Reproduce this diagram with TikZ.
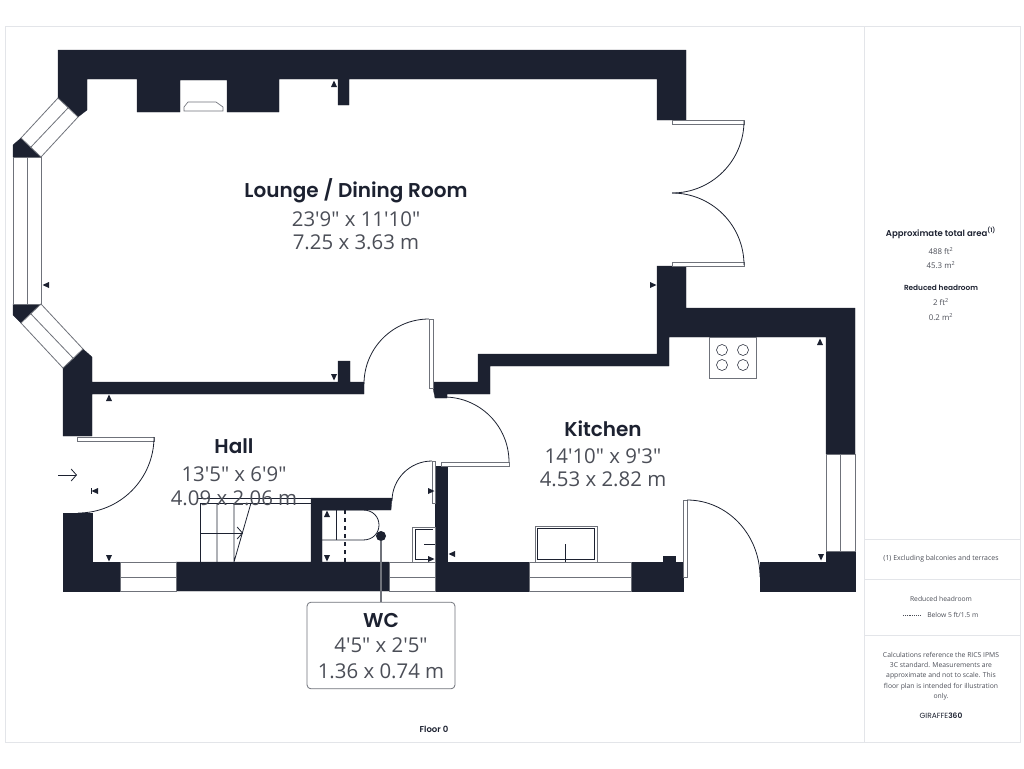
\documentclass[tikz,border=0pt]{standalone}
\usepackage{fontspec}
\setmainfont{Open Sans}[Ligatures=TeXOff]
\newfontfamily\titlefont{Poppins}[BoldFont={Poppins SemiBold}]
\usepackage{xcolor}
\usetikzlibrary{arrows.meta}
\definecolor{wallcol}{HTML}{1C2130}
\definecolor{dimcol}{HTML}{4B4E57}
\definecolor{framecol}{HTML}{E3E5E9}
\definecolor{panecol}{HTML}{6F727A}
\tikzset{
	wall/.style={fill=wallcol,draw=wallcol,line width=0.2pt},
	pane/.style={draw=panecol,fill=white,line width=0.6pt},
	leaf/.style={draw=panecol,fill=white,line width=0.7pt},
	swing/.style={draw=wallcol,line width=0.6pt},
	fitting/.style={draw=wallcol,line width=0.6pt},
	roomname/.style={font=\titlefont\bfseries\fontsize{15}{18}\selectfont,text=wallcol,inner sep=0pt},
	roomdim/.style={font=\fontsize{15.3}{18}\selectfont,text=dimcol,inner sep=0pt},
	sidehead/.style={font=\titlefont\bfseries\fontsize{6.4}{8}\selectfont,text=wallcol,inner sep=0pt},
	sidetext/.style={font=\fontsize{5.9}{7.6}\selectfont,text=dimcol,inner sep=0pt,align=center}
}
\newcommand{\tickmark}[3]{\fill[wallcol,shift={(#1,#2)},rotate=#3] (0,-3.5) -- (3,3) -- (-3,3) -- cycle;}
\begin{document}
\begin{tikzpicture}[x=0.75pt,y=-0.75pt]
	\useasboundingbox (0,0) rectangle (1024,768);
	% sheet
	\draw[framecol,line width=0.7pt] (5,26) rectangle (1020,742);
	\draw[framecol,line width=0.7pt] (864,26) -- (864,742);
	\foreach \ypos in {539,579,635}
		\draw[framecol,line width=0.7pt] (864,\ypos) -- (1020,\ypos);
	% walls
	\path[wall] (58,50) -- (686,50) -- (686,120) -- (657,120) -- (657,79) -- (349,79) -- (349,105) -- (338,105) -- (338,79) -- (279,79) -- (279,112) -- (227,112) -- (227,80) -- (180,80) -- (180,112) -- (137,112) -- (137,79) -- (87,79) -- (87,110) -- (78,117) -- (58,98) -- cycle;
	\path[wall] (83,349) -- (92,357) -- (92,382) -- (338,382) -- (338,361) -- (350,361) -- (350,382) -- (364,382) -- (364,394) -- (92,394) -- (92,436) -- (63,436) -- (63,368) -- cycle;
	\path[wall] (63,513) -- (92,513) -- (92,562) -- (120,562) -- (120,591) -- (63,591) -- cycle;
	\path[wall] (176,562) -- (311,562) -- (311,498) -- (392,498) -- (391,510) -- (322,510) -- (322,562) -- (389,562) -- (389,591) -- (176,591) -- cycle;
	\path[wall] (435,466) -- (447,466) -- (447,562) -- (529,562) -- (529,591) -- (435,591) -- cycle;
	\path[wall] (631,562) -- (663,562) -- (663,556) -- (675,556) -- (675,562) -- (683,562) -- (683,591) -- (631,591) -- cycle;
	\path[wall] (760,562) -- (826,562) -- (826,551) -- (855,551) -- (855,591) -- (760,591) -- cycle;
	\path[wall] (657,266) -- (686,266) -- (686,308) -- (855,308) -- (855,454) -- (826,454) -- (826,337) -- (669,337) -- (669,366) -- (490,366) -- (490,394) -- (447,394) -- (447,398) -- (435,398) -- (433,388) -- (433,382) -- (478,382) -- (478,354) -- (657,354) -- cycle;
	\path[wall] (21,138) -- (41,157) -- (13,157) -- (13,145) -- cycle;
	\path[wall] (13,304) -- (41,304) -- (21,323) -- (13,315) -- cycle;
	% windows
	\draw[pane] (58,98) -- (78,117) -- (41,157) -- (21,138) -- cycle (68,108) -- (31,147);
	\draw[pane] (13,157) rectangle (41,304) (27,157) -- (27,304);
	\draw[pane] (41,304) -- (83,349) -- (63,368) -- (21,323) -- cycle (31,314) -- (73,358);
	\draw[pane] (120,562) rectangle (176,591) (120,577) -- (176,577);
	\draw[pane] (389,562) rectangle (435,591) (389,577) -- (435,577);
	\draw[pane] (529,562) rectangle (631,591) (529,577) -- (631,577);
	\draw[pane] (826,454) rectangle (855,551) (840,454) -- (840,551);
	% doors
	\draw[leaf] (77,437) rectangle (154,441);
	\draw[swing] (154,437) arc[start angle=0,end angle=90,radius=76];
	\draw[leaf] (672,120) rectangle (744,124);
	\draw[swing] (744,121) arc[start angle=0,end angle=90,radius=72];
	\draw[leaf] (672,262) rectangle (744,266);
	\draw[swing] (744,265) arc[start angle=0,end angle=-90,radius=72];
	\draw[leaf] (429,319) rectangle (433,388);
	\draw[swing] (429,319) arc[start angle=-90,end angle=-180,radius=65];
	\draw[leaf] (441,462) rectangle (509,466);
	\draw[swing] (509,462) arc[start angle=0,end angle=-90,radius=65];
	\draw[leaf] (432,461) rectangle (435,503);
	\draw[swing] (432,461) arc[start angle=-90,end angle=-180,radius=40];
	\draw[leaf] (683,500) rectangle (687,577);
	\draw[swing] (687,500) arc[start angle=-90,end angle=0,x radius=73,y radius=77];
	\draw[swing,->,>={Straight Barb[length=4pt,width=9pt]}] (58,475) -- (77,475);
	% stairs
	\draw[fitting] (200,562) -- (200,503) -- (311,503) (197,498) -- (311,498);
	\draw[fitting] (217,503) -- (217,562) (234,503) -- (234,562) -- (251,503);
	\draw[fitting,->,>={Straight Barb[length=4pt,width=9pt]}] (200,533) -- (243,533);
	% chimney, hob, sink
	\draw[draw=panecol,line width=0.5pt] (184,111) -- (184,107) -- (188,102) -- (216,102) -- (223,107) -- (223,111) -- cycle;
	\draw[pane] (709,337) rectangle (756,378);
	\foreach \xpos in {722,743}
		\foreach \ypos in {350,365}
			\draw[fitting,line width=0.4pt] (\xpos,\ypos) circle[radius=5.5];
	\draw[pane] (535,526) rectangle (597,562);
	\draw[fitting] (537,528) rectangle (594,559) (565,544) -- (565,562);
	% wc fittings
	\draw[fitting] (322,540) -- (363,540) .. controls (373,540) and (379,533) .. (379,525) .. controls (379,517) and (373,510) .. (363,510) -- (322,510);
	\draw[fitting] (336,510) -- (336,540);
	\draw[wallcol,line width=1.2pt,dashed] (345,510) -- (345,562);
	\draw[pane] (412,527) rectangle (435,562);
	\draw[fitting] (433,529) -- (415,529) -- (415,559) -- (433,559) (424,544) -- (435,544);
	% dimension marks
	\foreach \xpos/\ypos/\ang in {46/285/90,109/398/0,109/558/180,334/377/180,334/84/0,653/285/-90,95/491/90,327/514/0,327/558/180,431/491/-90,431/559/-90,452/554/90,820/342/0,821/557/180}
		\tickmark{\xpos}{\ypos}{\ang}
	\draw[wallcol,line width=0.5pt] (91,488) -- (91,494);
	% labels
	\node[roomname] (lounge) at (356,191) {Lounge / Dining Room};
	\node[roomdim] (loungeimp) at (356,219) {23'9" x 11'10"};
	\node[roomdim] (loungemet) at (356,242) {7.25 x 3.63 m};
	\node[roomname] (hall) at (234,446) {Hall};
	\node[roomdim] (hallimp) at (234,474) {13'5" x 6'9"};
	\node[roomdim] (hallmet) at (234,498) {4.09 x 2.06 m};
	\node[roomname] (kitchen) at (603,429) {Kitchen};
	\node[roomdim] (kitchenimp) at (603,456) {14'10" x 9'3"};
	\node[roomdim] (kitchenmet) at (603,479) {4.53 x 2.82 m};
	%
	\node[circle,fill=wallcol,minimum size=7.5pt,inner sep=0pt] (wcdot) at (381,536) {};
	\node[draw=panecol,fill=white,rounded corners=3pt,line width=0.6pt,minimum width=111pt,minimum height=65pt] (wcbox) at (381,645.5) {};
	\draw[panecol,line width=0.8pt] (wcdot) -- (wcbox);
	\node[roomname] (wc) at (381,620) {WC};
	\node[roomdim] (wcimp) at (381,645) {4'5" x 2'5"};
	\node[roomdim] (wcmet) at (381,671) {1.36 x 0.74 m};
	%
	\node[sidehead] (floor) at (434,729) {Floor 0};
	\node[sidehead] (area) at (941,233) {Approximate total area\textsuperscript{(1)}};
	\node[sidetext] (areaimp) at (941,251) {488 ft\textsuperscript{2}};
	\node[sidetext] (areamet) at (941,265) {45.3 m\textsuperscript{2}};
	\node[sidehead,font=\titlefont\bfseries\fontsize{5.5}{7}\selectfont] (low) at (941,288) {Reduced headroom};
	\node[sidetext] (lowimp) at (941,302) {2 ft\textsuperscript{2}};
	\node[sidetext] (lowmet) at (941,317) {0.2 m\textsuperscript{2}};
	\node[sidetext,font=\fontsize{5.2}{7}\selectfont] (note) at (941,559) {(1) Excluding balconies and terraces};
	\node[sidetext,font=\fontsize{5.05}{7}\selectfont] (key) at (941,599) {Reduced headroom};
	\coordinate (keya) at (903,615);
	\coordinate (keyb) at (921,615);
	\draw[dimcol,line width=0.4pt,densely dotted] (keya) -- (keyb);
	\node[sidetext,font=\fontsize{5.05}{7}\selectfont,anchor=west] (keytext) at (927,615) {Below 5 ft/1.5 m};
	\node[sidetext,font=\fontsize{5.1}{7.7}\selectfont] (calc) at (941,676) {Calculations reference the RICS IPMS\\3C standard. Measurements are\\approximate and not to scale. This\\floor plan is intended for illustration\\only.};
	\node[sidehead,font=\titlefont\fontsize{5.6}{7}\selectfont] (brand) at (941,716) {GIRAFFE\textbf{360}};
\end{tikzpicture}
\end{document}
